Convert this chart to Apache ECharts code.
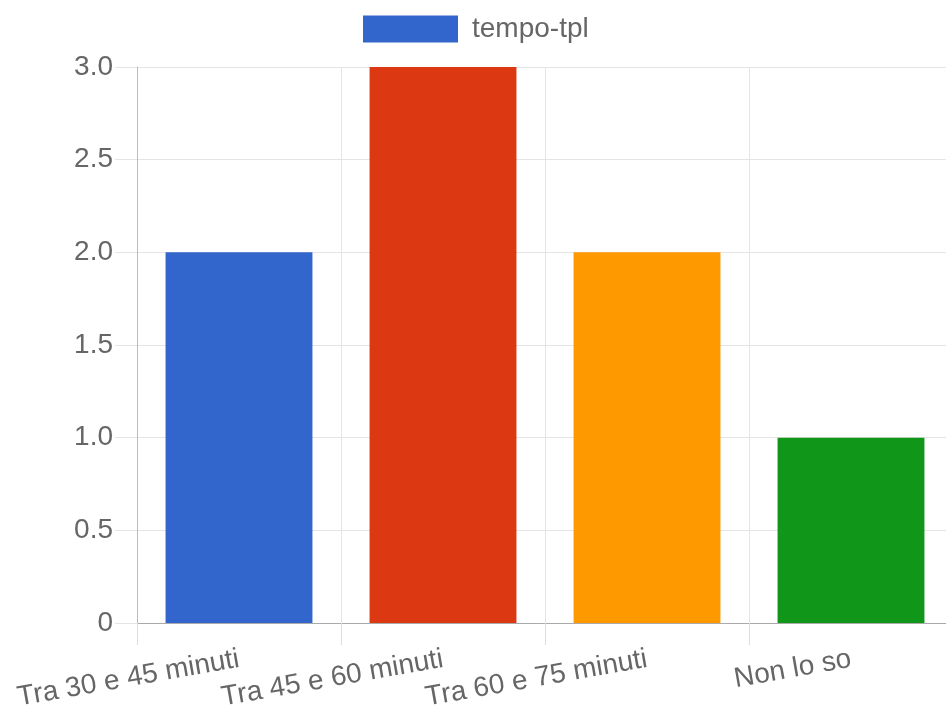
<!DOCTYPE html>
<html>
<head>
<meta charset="utf-8">
<script src="https://cdn.jsdelivr.net/npm/echarts@6/dist/echarts.min.js"></script>
<style>
html,body{margin:0;padding:0;background:#fff;}
#chart{width:946px;height:711px;}
</style>
</head>
<body>
<div id="chart"></div>
<script>
const seriesName = 'tempo-tpl';
const categories = ['Tra 30 e 45 minuti', 'Tra 45 e 60 minuti', 'Tra 60 e 75 minuti', 'Non lo so'];
const values = [2, 3, 2, 1];
const yTicks = [0, 0.5, 1, 1.5, 2, 2.5, 3];

const palette = ['#3366CC', '#DC3912', '#FF9900', '#109618'];
const font = '"Liberation Sans", Arial, Helvetica, sans-serif';

const chart = echarts.init(document.getElementById('chart'), null, {renderer: 'canvas'});
chart.setOption({
  animation: false,
  backgroundColor: '#fff',
  textStyle: {fontFamily: font},
  legend: {
    left: 358, top: 10,
    icon: 'rect',
    itemWidth: 95, itemHeight: 27,
    data: [seriesName],
    textStyle: {color: '#666', fontSize: 28, fontFamily: font, padding: [0, 0, 0, 9]}
  },
  grid: {left: 137, top: 67, width: 816, height: 556, containLabel: false, outerBoundsMode: 'none'},
  xAxis: {
    type: 'category',
    data: categories,
    boundaryGap: true,
    axisLine: {show: true, lineStyle: {color: '#aaa', width: 1}},
    axisTick: {show: true, length: 22, lineStyle: {color: '#ddd'}},
    splitLine: {show: true, lineStyle: {color: '#e4e4e4'}},
    axisLabel: {
      rotate: 10, margin: 36, color: '#666', fontSize: 28, fontFamily: font, interval: 0
    }
  },
  yAxis: {
    type: 'value',
    min: yTicks[0], max: yTicks[yTicks.length - 1], interval: 0.5,
    axisLine: {show: true, lineStyle: {color: '#bbb', width: 1}},
    axisTick: {show: true, length: 22, lineStyle: {color: '#e4e4e4'}},
    splitLine: {show: true, lineStyle: {color: '#e4e4e4'}},
    axisLabel: {
      margin: 24, color: '#666', fontSize: 28, fontFamily: font,
      formatter: v => v === 0 ? '0' : v.toFixed(1)
    }
  },
  series: [{
    name: seriesName,
    type: 'bar',
    barWidth: '72%',
    itemStyle: {color: palette[0]},
    data: values.map((v, i) => ({value: v, itemStyle: {color: palette[i % palette.length]}}))
  }]
});
</script>
</body>
</html>
